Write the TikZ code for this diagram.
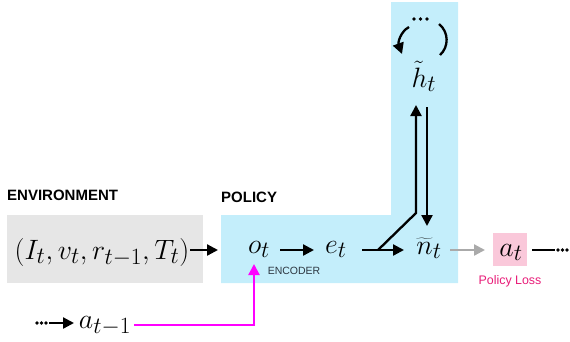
\documentclass[tikz,border=0pt]{standalone}
\usepackage{fontspec}
\setsansfont{Liberation Sans}
\usetikzlibrary{arrows.meta}
\definecolor{envgray}{RGB}{230,230,230}
\definecolor{polblue}{RGB}{196,238,251}
\definecolor{losspink}{RGB}{250,200,218}
\definecolor{magline}{RGB}{255,0,255}
\definecolor{losstext}{RGB}{232,28,120}
\definecolor{enctext}{RGB}{45,55,65}
\definecolor{grayarrow}{RGB}{170,170,170}
\begin{document}
\begin{tikzpicture}[x=1pt,y=-1pt,
  tip/.style={-{Triangle[length=11pt,width=11pt]}},
  arr/.style={line width=2.3pt,tip},
  plain/.style={line width=2.3pt},
  mathlbl/.style={inner sep=0pt,anchor=base,font=\fontsize{24.88}{26}\selectfont,scale=1.125},
  head/.style={font=\sffamily\bfseries\fontsize{15}{16}\selectfont,anchor=west,inner sep=0pt},
  dot/.style={circle,fill=black,inner sep=0pt,minimum size=3.8pt},
]
\useasboundingbox (0,0) rectangle (570,341);
\fill[envgray] (7,215) rectangle (203,283);
\fill[polblue] (221,215) -- (391,215) -- (391,2) -- (458,2) -- (458,283) -- (221,283) -- cycle;
\fill[losspink] (493,233) rectangle (527,266);

\node[head] (envlbl) at (7,195) {ENVIRONMENT};
\node[head] (pollbl) at (221,197) {POLICY};

\node[mathlbl] (env) at (102,259) {$(I_t, v_t, r_{t-1}, T_t)$};
\node[mathlbl] (o) at (259,253) {$o_t$};
\node[mathlbl] (e) at (336,253) {$e_t$};
\node[mathlbl] (n) at (429,254) {$\widetilde{n}_t$};
\node[mathlbl] (h) at (424,87) {$\tilde{h}_t$};
\node[mathlbl] (a) at (511,256) {$a_t$};
\node[mathlbl] (aprev) at (105,328) {$a_{t-1}$};

\node[font=\sffamily\fontsize{10.5}{11}\selectfont,text=enctext,inner sep=0pt] (enc) at (294,271) {ENCODER};
\node[font=\sffamily\fontsize{12.4}{13}\selectfont,text=losstext,inner sep=0pt] (loss) at (510,281) {Policy Loss};

% main row
\coordinate (envout) at (190,250);
\coordinate (oin) at (218,250);
\draw[arr] (envout) -- (oin);
\coordinate (oout) at (280,250);
\coordinate (ein) at (314,250);
\draw[arr] (oout) -- (ein);
\coordinate (eout) at (362,250);
\coordinate (nin) at (404,250);
\draw[arr] (eout) -- (nin);

% branch to h
\coordinate (br) at (378,250);
\coordinate (bend) at (416,213);
\coordinate (hin) at (416,105);
\draw[plain,tip] (br) -- (bend) -- (hin);
\coordinate (hout) at (427,107);
\coordinate (ntop) at (427,226);
\draw[arr] (hout) -- (ntop);

% recurrence above h
\draw[arr] (409,27) .. controls (400,32) and (398,43) .. (402,54);
\draw[plain] (439,24) .. controls (449,32) and (449,47) .. (440,55);
\node[dot] (d1) at (414,19) {};
\node[dot] (d2) at (420.5,19) {};
\node[dot] (d3) at (427,19) {};

% to action
\coordinate (nout) at (450,250);
\coordinate (ain) at (485,250);
\draw[line width=2.3pt,grayarrow,tip] (nout) -- (ain);
\coordinate (aout) at (532,250);
\coordinate (aend) at (555,250);
\draw[plain] (aout) -- (aend);
\node[dot] (r1) at (558,250) {};
\node[dot] (r2) at (562.5,250) {};
\node[dot] (r3) at (567,250) {};

% previous action
\node[dot] (l1) at (37,323) {};
\node[dot] (l2) at (41.5,323) {};
\node[dot] (l3) at (46,323) {};
\coordinate (lst) at (49,323);
\coordinate (lend) at (74,323);
\draw[arr] (lst) -- (lend);
\coordinate (mst) at (134,325);
\coordinate (mcorner) at (254,325);
\coordinate (mtip) at (254,264);
\draw[line width=2.3pt,magline,tip] (mst) -- (mcorner) -- (mtip);
\end{tikzpicture}
\end{document}
